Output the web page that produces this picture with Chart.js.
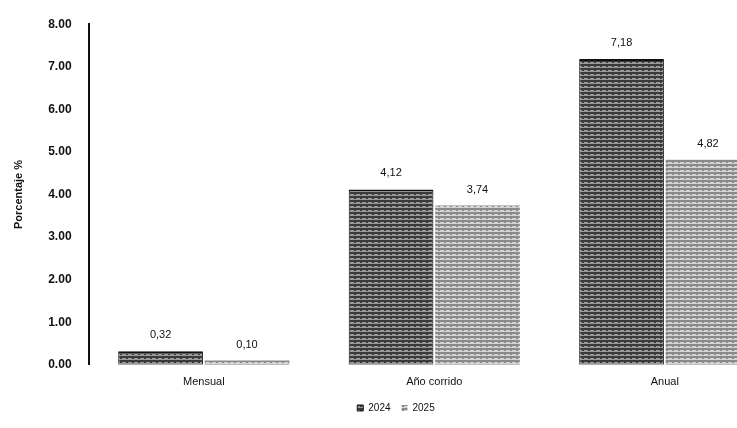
<!DOCTYPE html>
<html>
<head>
<meta charset="utf-8">
<script src="https://cdn.jsdelivr.net/npm/chart.js@4/dist/chart.umd.min.js"></script>
<style>
  body { margin: 0; background: #fff; overflow: hidden; }
  #wrap { width: 794px; height: 428px; }
</style>
</head>
<body>
<div id="wrap"><canvas id="myChart"></canvas></div>
<script>
"use strict";

const categories = ["Mensual", "Año corrido", "Anual"];
const values2024 = [0.32, 4.12, 7.18];
const values2025 = [0.10, 3.74, 4.82];
const seriesNames = ["2024", "2025"];
const yTicks = [0, 1, 2, 3, 4, 5, 6, 7, 8];

const font = "'Liberation Sans', Arial, sans-serif";

// striped fill, a rough stand-in for the scanned texture
function stripes(dark, light) {
  const c = document.createElement("canvas");
  c.width = 6;
  c.height = 4;
  const g = c.getContext("2d");
  g.fillStyle = light;
  g.fillRect(0, 0, 6, 4);
  g.fillStyle = dark;
  g.fillRect(0, 0, 6, 2);
  g.fillRect(0, 2, 2, 1);
  return g.createPattern(c, "repeat");
}

// draws the value above each bar, like the original labels
const valueLabels = {
  id: "valueLabels",
  afterDatasetsDraw(chart) {
    const ctx = chart.ctx;
    ctx.save();
    ctx.font = "11px " + font;
    ctx.fillStyle = "#111";
    ctx.textAlign = "center";
    ctx.textBaseline = "middle";
    chart.data.datasets.forEach((ds, i) => {
      chart.getDatasetMeta(i).data.forEach((bar, j) => {
        const txt = ds.data[j].toFixed(2).replace(".", ",");
        ctx.fillText(txt, bar.x, bar.y - 16);
      });
    });
    ctx.restore();
  }
};

const data = {
  labels: categories,
  datasets: [{
    label: seriesNames[0],
    data: values2024,
    backgroundColor: stripes("#3a3a3a", "#9a9a9a"),
    borderColor: "#111",
    borderWidth: { top: 2, left: 1, right: 1, bottom: 0 },
    borderSkipped: false,
    categoryPercentage: 0.75,
    barPercentage: 0.98
  }, {
    label: seriesNames[1],
    data: values2025,
    backgroundColor: stripes("#8a8a8a", "#d4d4d4"),
    borderWidth: 0,
    categoryPercentage: 0.75,
    barPercentage: 0.98
  }]
};

const config = {
  type: "bar",
  data: data,
  options: {
    responsive: true,
    maintainAspectRatio: false,
    animation: false,
    layout: { padding: { top: 0, right: 14, left: 12, bottom: 5 } },
    plugins: {
      tooltip: { enabled: false },
      legend: {
        position: "bottom",
        labels: {
          boxWidth: 6,
          boxHeight: 6,
          padding: 11,
          color: "#111",
          font: { family: font, size: 10 }
        }
      }
    },
    scales: {
      x: {
        grid: { display: false },
        border: { display: false },
        ticks: { color: "#111", font: { family: font, size: 11 }, padding: 3 }
      },
      y: {
        min: yTicks[0],
        max: yTicks[yTicks.length - 1],
        afterBuildTicks(scale) {
          scale.ticks = yTicks.map(v => ({ value: v }));
        },
        grid: { display: false, drawTicks: false },
        border: { display: true, color: "#111", width: 2 },
        ticks: {
          color: "#111",
          padding: 17,
          font: { family: font, size: 12, weight: "bold" },
          callback: v => v.toFixed(2)
        },
        title: {
          display: true,
          text: "Porcentaje %",
          color: "#111",
          font: { family: font, size: 11, weight: "bold" },
          padding: { top: 0, bottom: 6 }
        }
      }
    }
  },
  plugins: [valueLabels]
};

const myChart = new Chart(document.getElementById("myChart"), config);
</script>
</body>
</html>
